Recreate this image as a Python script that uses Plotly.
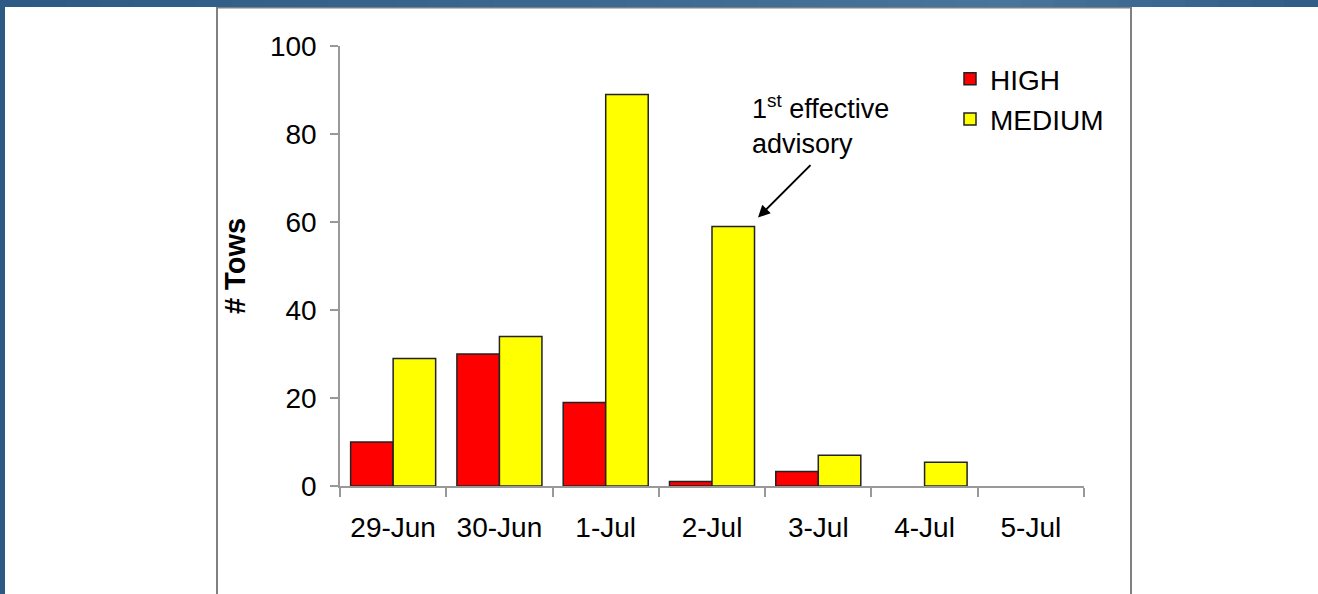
import plotly.graph_objects as go

dates = ["29-Jun", "30-Jun", "1-Jul", "2-Jul", "3-Jul", "4-Jul", "5-Jul"]
high = [10, 30, 19, 1, 3.3, 0, 0]
medium = [29, 34, 89, 59, 7, 5.4, 0]

FONT = "Arial, Liberation Sans, sans-serif"
W, H = 1318, 594
L, R, T, B = 340, 234, 46, 108
pw, ph = W - L - R, H - T - B


def px(x):
    return (x - L) / pw


def py(y):
    return (H - B - y) / ph


def outline(vals):
    return [1.5 if v > 0 else 0 for v in vals]


fig = go.Figure()
fig.add_trace(go.Bar(name="HIGH", x=dates, y=high, legendgroup="h",
                     marker=dict(color="#ff0000", line=dict(color="#222222", width=outline(high)))))
fig.add_trace(go.Bar(name="MEDIUM", x=dates, y=medium, legendgroup="m",
                     marker=dict(color="#ffff00", line=dict(color="#222222", width=outline(medium)))))

shapes = []
# decorative frame: left blue strip, top gradient bar, panel border
shapes.append(dict(type="rect", xref="paper", yref="paper", x0=px(-5), x1=px(5),
                   y0=py(H + 5), y1=py(-5), fillcolor="#2c5a84", line=dict(width=0), layer="above"))
stops = [(0, (44, 90, 132)), (650, (60, 106, 146)), (1000, (72, 117, 155)), (1318, (46, 92, 134))]
n = 40
for i in range(n):
    x0 = W * i / n
    x1 = W * (i + 1) / n
    xm = (x0 + x1) / 2
    for j in range(len(stops) - 1):
        if stops[j][0] <= xm <= stops[j + 1][0]:
            t = (xm - stops[j][0]) / (stops[j + 1][0] - stops[j][0])
            c = tuple(int(round(stops[j][1][k] + t * (stops[j + 1][1][k] - stops[j][1][k]))) for k in range(3))
            break
    shapes.append(dict(type="rect", xref="paper", yref="paper", x0=px(x0 - 0.5), x1=px(x1 + 0.5),
                       y0=py(7), y1=py(-5), fillcolor="rgb(%d,%d,%d)" % c, line=dict(width=0), layer="above"))
shapes.append(dict(type="rect", xref="paper", yref="paper", x0=px(217), x1=px(1131),
                   y0=py(H + 10), y1=py(7.5), line=dict(color="#808080", width=2), fillcolor="rgba(0,0,0,0)",
                   layer="below"))

fig.update_layout(
    width=W, height=H,
    margin=dict(l=L, r=R, t=T, b=B),
    paper_bgcolor="white", plot_bgcolor="white",
    font=dict(family=FONT, size=28, color="black"),
    barmode="group", bargap=0.2, bargroupgap=0,
    shapes=shapes,
    showlegend=True,
    legend=dict(x=px(950), y=py(54), xanchor="left", yanchor="top",
                font=dict(size=28), tracegroupgap=1, traceorder="grouped",
                bgcolor="rgba(0,0,0,0)"),
    xaxis=dict(type="category", range=[-0.5, 6.5], showline=True, linecolor="#999999", linewidth=1.5,
               ticks="outside", tickson="boundaries", ticklen=9, tickcolor="#999999", tickwidth=1.5,
               tickfont=dict(size=28), ticklabelstandoff=16, showgrid=False, zeroline=False),
    yaxis=dict(range=[0, 100], dtick=20, showline=True, linecolor="#999999", linewidth=1.5,
               ticks="outside", ticklen=8, tickcolor="#999999", tickwidth=1.5,
               tickfont=dict(size=28), ticklabelstandoff=8, showgrid=False, zeroline=False,
               title=dict(text="<b># Tows</b>", font=dict(size=29), standoff=16)),
)

fig.add_annotation(text="1<sup>st</sup> effective<br>advisory", xref="paper", yref="paper",
                   x=px(750), y=py(88), xanchor="left", yanchor="top", align="left",
                   showarrow=False, font=dict(size=27))
fig.add_annotation(text="", x=dates[3], y=medium[3] + 2, xref="x", yref="y", xshift=46,
                   showarrow=True, arrowhead=2, arrowsize=1.2, arrowwidth=2, arrowcolor="black",
                   axref="pixel", ayref="pixel", ax=54, ay=-54, standoff=0)

fig.write_html("out.html", config={"displayModeBar": False},
               post_script="document.body.style.margin='0';document.body.style.padding='0';")
